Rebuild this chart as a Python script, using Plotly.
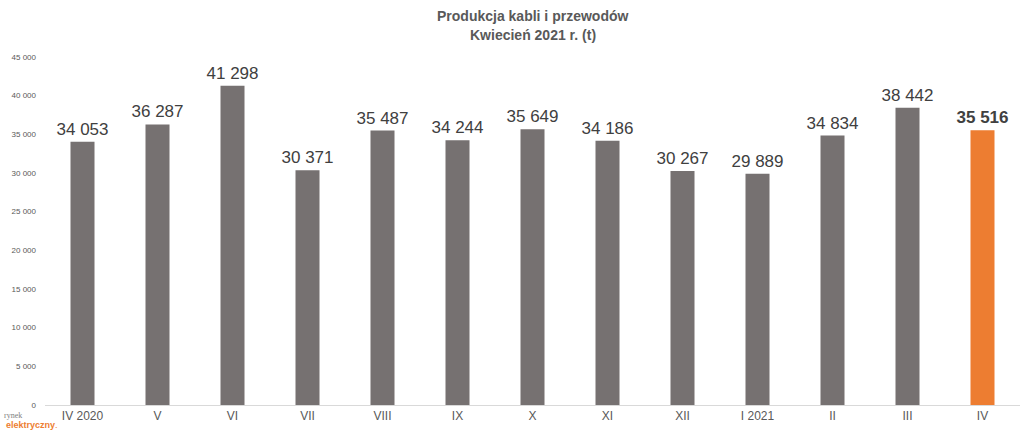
import plotly.graph_objects as go

categories = ["IV 2020", "V", "VI", "VII", "VIII", "IX", "X", "XI", "XII", "I 2021", "II", "III", "IV"]
values = [34053, 36287, 41298, 30371, 35487, 34244, 35649, 34186, 30267, 29889, 34834, 38442, 35516]
tick_vals = [0, 5000, 10000, 15000, 20000, 25000, 30000, 35000, 40000, 45000]
tick_text = ["0", "5 000", "10 000", "15 000", "20 000", "25 000", "30 000", "35 000", "40 000", "45 000"]
title_lines = ["Produkcja kabli i przewodów", "Kwiecień 2021 r. (t)"]

GRAY = "#767171"
ORANGE = "#ED7D31"
NARROW = "Liberation Sans Narrow, Arial Narrow, Liberation Sans, sans-serif"

def fmt(v):
    return f"{v:,}".replace(",", " ")

colors = [GRAY] * (len(values) - 1) + [ORANGE]
labels = [fmt(v) for v in values[:-1]] + [f"<b>{fmt(values[-1])}</b>"]

fig = go.Figure(go.Bar(
    x=categories, y=values,
    marker=dict(color=colors, line=dict(width=0)),
    text=labels, textposition="outside", cliponaxis=False, constraintext="none",
    textfont=dict(family=NARROW, size=17, color="#404040"),
))

annotations = []
for i, line in enumerate(title_lines):
    annotations.append(dict(
        text=f"<b>{line}</b>", xref="paper", yref="paper", x=0.5, y=1 + (57 - 16 - 19 * i) / 348,
        xanchor="center", yanchor="middle", showarrow=False,
        font=dict(family=NARROW, size=14, color="#595959"),
    ))
annotations += [
    dict(text="rynek", xref="paper", yref="paper", x=-0.044, y=-0.03, xanchor="left", yanchor="middle",
         showarrow=False, font=dict(family="Liberation Serif, serif", size=8, color="#808080")),
    dict(text="<b>elektryczny</b>.", xref="paper", yref="paper", x=-0.042, y=-0.058, xanchor="left", yanchor="middle",
         showarrow=False, font=dict(family=NARROW, size=9, color=ORANGE)),
]

fig.update_layout(
    width=1024, height=434,
    margin=dict(l=45, r=4, t=57, b=29),
    paper_bgcolor="white", plot_bgcolor="white",
    bargap=0.68,
    showlegend=False,
    xaxis=dict(
        type="category", showgrid=False, showline=True, linecolor="#D9D9D9", linewidth=1,
        ticks="", tickfont=dict(family=NARROW, size=12, color="#595959"),
    ),
    yaxis=dict(
        range=[0, 45000], tickvals=tick_vals, ticktext=tick_text,
        showgrid=False, zeroline=False, showline=False, ticks="",
        tickfont=dict(family=NARROW, size=8, color="#595959"),
        ticklabelstandoff=8,
    ),
    annotations=annotations,
)

fig.write_html("out.html", config={"displayModeBar": False},
               post_script="document.body.style.margin='0';document.body.style.overflow='hidden';")
